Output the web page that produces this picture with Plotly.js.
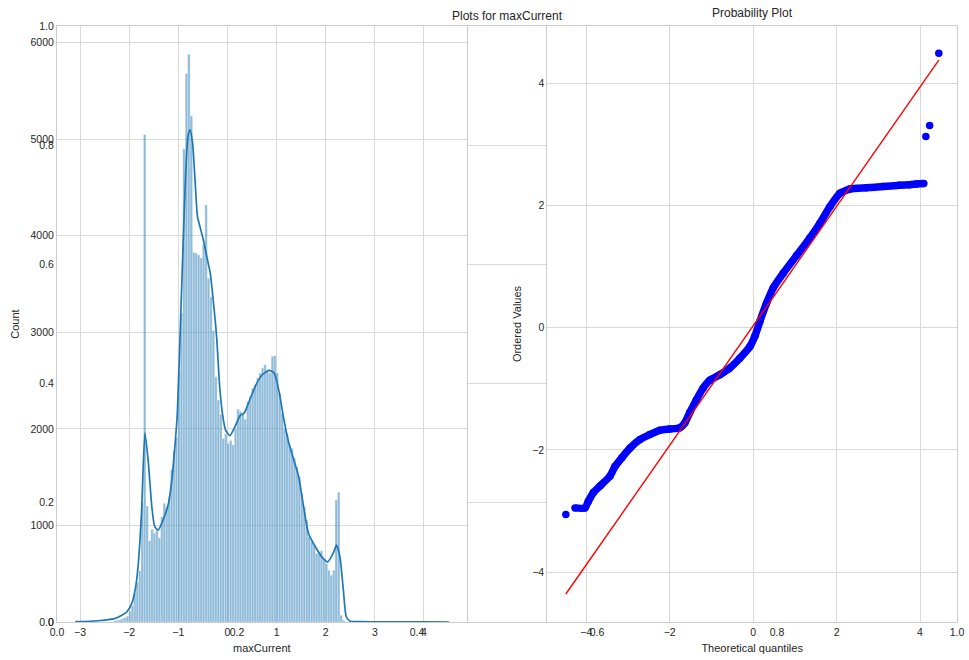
<!DOCTYPE html>
<html>
<head>
<meta charset="utf-8">
<script src="https://cdn.plot.ly/plotly-3.0.1.min.js"></script>
<style>html,body{margin:0;padding:0;background:#fff;}#chart{width:969px;height:660px;}</style>
</head>
<body>
<div id="chart"></div>
<script>
// ---------- DATA ----------
// histogram of maxCurrent: first bin left edge, bin width, counts
const histStart = -2.31;
const histWidth = 0.05;
const histCounts = [15,20,25,35,45,60,110,170,300,410,530,1240,5050,1200,840,960,920,960,870,1090,
  1230,1190,1290,1580,1770,1910,2600,3200,4900,5680,5880,5240,3830,3820,3800,3770,3910,4320,3560,3370,
  3020,2540,2300,2150,1900,1950,1850,1880,1834,2000,2204,2180,2160,2100,2284,2335,2422,2457,2526,2578,
  2630,2664,2612,2578,2751,2758,2578,2370,2163,2007,1955,1834,1800,1696,1609,1505,1332,1194,1055,882,
  830,796,709,727,737,640,606,536,484,536,1263,1343,69,17];

// KDE curve (scaled to counts)
const kdeX = [-3.10,-2.80,-2.50,-2.30,-2.15,-2.05,-1.95,-1.88,-1.82,-1.75,-1.68,-1.61,-1.54,-1.48,-1.41,-1.31,-1.20,-1.14,-1.07,-1.02,
  -0.95,-0.90,-0.85,-0.80,-0.76,-0.71,-0.66,-0.61,-0.56,-0.49,-0.42,-0.35,-0.29,-0.22,-0.16,-0.10,-0.04,0.05,0.16,0.26,
  0.34,0.44,0.58,0.71,0.85,0.95,1.05,1.15,1.25,1.35,1.45,1.55,1.65,1.79,1.92,2.04,2.15,2.22,2.29,2.36,
  2.42,2.50,2.70,3.00,3.50,4.00,4.51];
const kdeY = [3,8,20,35,70,104,190,330,572,1127,1958,1646,1196,988,953,1057,1230,1438,1820,2166,
  3197,3957,4648,5045,5097,4959,4579,4199,4095,3957,3784,3611,3335,2950,2450,2150,1990,1930,2030,2140,
  2163,2284,2457,2561,2606,2578,2388,2093,1851,1678,1505,1194,917,779,675,623,709,796,675,329,
  52,8,3,2,1,1,0];

// Probability plot: theoretical quantiles vs ordered values (dense band)
const qqTheo = [-4.27,-4.03,-3.95,-3.83,-3.67,-3.43,-3.31,-3.15,-2.95,-2.71,-2.48,-2.24,-2.00,-1.76,-1.64,-1.52,-1.36,-1.20,-1.04,-0.80,
  -0.56,-0.32,-0.08,0.04,0.16,0.32,0.48,0.72,1.04,1.36,1.60,1.84,2.08,2.32,2.71,3.11,3.51,3.75,3.91,4.09];
const qqOrdered = [-2.95,-2.95,-2.84,-2.70,-2.59,-2.43,-2.27,-2.13,-1.97,-1.83,-1.75,-1.68,-1.66,-1.64,-1.56,-1.39,-1.18,-0.99,-0.86,-0.77,
  -0.66,-0.50,-0.31,-0.14,0.10,0.40,0.65,0.89,1.18,1.47,1.71,1.98,2.20,2.27,2.29,2.31,2.33,2.34,2.35,2.36];
// isolated extreme points
const qqIsoTheo = [-4.49,4.14,4.23,4.45];
const qqIsoOrdered = [-3.06,3.13,3.31,4.49];
// least-squares fit line end points
const fitX = [-4.49,4.45];
const fitY = [-4.36,4.38];

// tick labels
const bgTicks = [0,0.2,0.4,0.6,0.8,1.0];
const bgTickText = ['0.0','0.2','0.4','0.6','0.8','1.0'];
const histXTicks = [-3,-2,-1,0,1,2,3,4];
const histXText = ['\u22123','\u22122','\u22121','0','1','2','3','4'];
const histYTicks = [0,1000,2000,3000,4000,5000,6000];
const histYText = ['0','1000','2000','3000','4000','5000','6000'];
const qqTicks = [-4,-2,0,2,4];
const qqTickText = ['\u22124','\u22122','0','2','4'];

// ---------- CHART ----------
const histCenters = histCounts.map((_, i) => histStart + (i + 0.5) * histWidth);

const GRID = '#d9d9d9';
const SPINE = '#cccccc';
const TXT = '#262626';

const traces = [
  {x: [], y: [], type: 'scatter', mode: 'markers', xaxis: 'x', yaxis: 'y', hoverinfo: 'skip', showlegend: false},
  {x: histCenters, y: histCounts, type: 'bar', width: histWidth, xaxis: 'x2', yaxis: 'y2',
   marker: {color: 'rgba(31,119,180,0.5)', line: {color: 'rgba(255,255,255,0.55)', width: 0.5}}},
  {x: kdeX, y: kdeY, type: 'scatter', mode: 'lines', xaxis: 'x2', yaxis: 'y2',
   line: {color: '#1f77b4', width: 1.7, shape: 'spline', smoothing: 0.6}},
  {x: qqTheo, y: qqOrdered, type: 'scatter', mode: 'lines+markers', xaxis: 'x3', yaxis: 'y3',
   line: {color: '#0000ff', width: 7.5, shape: 'spline', smoothing: 0.5},
   marker: {color: '#0000ff', size: 7.5}},
  {x: qqIsoTheo, y: qqIsoOrdered, type: 'scatter', mode: 'markers', xaxis: 'x3', yaxis: 'y3',
   marker: {color: '#0000ff', size: 7.5}},
  {x: fitX, y: fitY, type: 'scatter', mode: 'lines', xaxis: 'x3', yaxis: 'y3',
   line: {color: '#ff0000', width: 1.4}}
];

function ax(extra) {
  return Object.assign({
    showgrid: true, gridcolor: GRID, gridwidth: 1,
    showline: true, mirror: true, linecolor: SPINE, linewidth: 1,
    zeroline: false, ticks: '', tickfont: {size: 10.5, color: TXT},
    fixedrange: true
  }, extra);
}

const layout = {
  width: 969, height: 660,
  margin: {l: 57, r: 12, t: 26, b: 38, pad: 0},
  paper_bgcolor: '#ffffff', plot_bgcolor: '#ffffff',
  showlegend: false,
  bargap: 0,
  font: {family: '"Liberation Sans", Arial, sans-serif', size: 10.5, color: TXT},
  title: {text: 'Plots for maxCurrent', xref: 'paper', x: 0.5, xanchor: 'center',
          yref: 'paper', y: 1, yanchor: 'bottom', pad: {b: 6}, font: {size: 12, color: TXT}},
  xaxis: ax({domain: [0, 1], range: [0, 1], tickvals: bgTicks, ticktext: bgTickText, anchor: 'y'}),
  yaxis: ax({domain: [0, 1], range: [0, 1], tickvals: bgTicks, ticktext: bgTickText, anchor: 'x'}),
  xaxis2: ax({domain: [0, 0.4552], range: [-3.47, 4.87], anchor: 'y2',
              tickvals: histXTicks, ticktext: histXText,
              title: {text: 'maxCurrent', font: {size: 11, color: TXT}, standoff: 7}}),
  yaxis2: ax({domain: [0, 1], range: [0, 6173], anchor: 'x2',
              tickvals: histYTicks, ticktext: histYText,
              title: {text: 'Count', font: {size: 11, color: TXT}, standoff: 8}}),
  xaxis3: ax({domain: [0.5448, 1], range: [-4.934, 4.886], anchor: 'y3',
              tickvals: qqTicks, ticktext: qqTickText,
              title: {text: 'Theoretical quantiles', font: {size: 11, color: TXT}, standoff: 7}}),
  yaxis3: ax({domain: [0, 1], range: [-4.818, 4.938], anchor: 'x3',
              tickvals: qqTicks, ticktext: qqTickText,
              title: {text: 'Ordered Values', font: {size: 11, color: TXT}, standoff: 8}}),
  annotations: [
    {text: 'Probability Plot', xref: 'x3 domain', x: 0.5, xanchor: 'center',
     yref: 'y3 domain', y: 1, yanchor: 'bottom', yshift: 4, showarrow: false,
     font: {size: 12, color: TXT}}
  ]
};

Plotly.newPlot('chart', traces, layout, {displayModeBar: false, staticPlot: true});
</script>
</body>
</html>
